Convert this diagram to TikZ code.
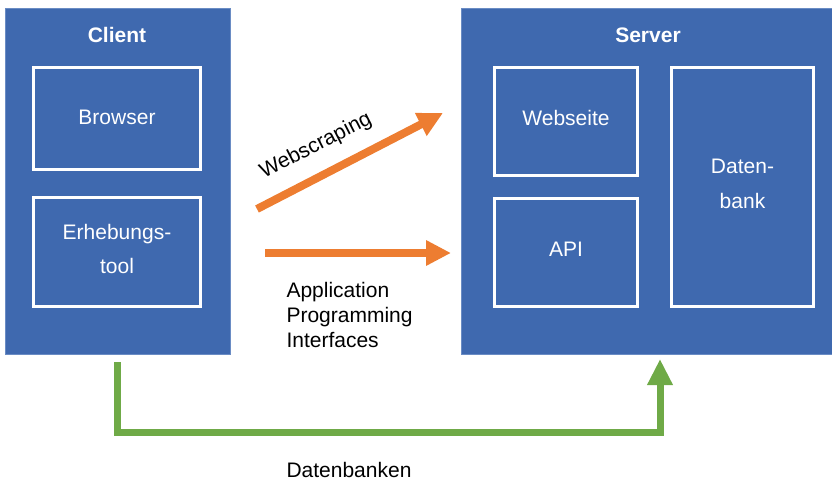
\documentclass[tikz,border=0pt]{standalone}
\usepackage{fontspec}
\setmainfont{Liberation Sans}
\usetikzlibrary{arrows.meta}
\definecolor{boxblue}{HTML}{3F69AF}
\definecolor{edgeblue}{HTML}{6A8CC4}
\definecolor{arrorange}{HTML}{ED7D31}
\definecolor{arrgreen}{HTML}{6FAA47}
\tikzset{
  outerbox/.style={rectangle, fill=boxblue, draw=edgeblue, line width=0.8pt, inner sep=0pt},
  innerbox/.style={rectangle, draw=white, line width=3.3pt, inner sep=0pt},
  boxtext/.style={text=white, align=center, inner sep=0pt, font=\fontsize{21}{34}\selectfont},
  titlelbl/.style={text=white, font=\fontsize{21}{25}\selectfont\bfseries},
  plainlbl/.style={text=black, font=\fontsize{21}{25}\selectfont, align=left},
  orangearrow/.style={draw=arrorange, line width=8pt, -{Triangle[width=24pt,length=25pt]}},
  greenarrow/.style={draw=arrgreen, line width=7pt, -{Triangle[width=24pt,length=26pt]}}
}
\begin{document}
\begin{tikzpicture}[x=1pt,y=-1pt]
\useasboundingbox (0,0) rectangle (832,481);
% outer boxes
\node[outerbox, minimum width=225pt, minimum height=346pt] (client) at (117.5,181) {};
\node[outerbox, minimum width=372pt, minimum height=346pt] (server) at (647,181) {};
\node[titlelbl] (clientlbl) at (117,35) {Client};
\node[titlelbl] (serverlbl) at (648,35) {Server};
% inner boxes
\node[innerbox, minimum width=166.7pt, minimum height=101.7pt] (browser) at (117,118.5) {};
\node[innerbox, minimum width=166.7pt, minimum height=108.7pt] (tool) at (117,252) {};
\node[innerbox, minimum width=142.7pt, minimum height=107.7pt] (web) at (566,121.5) {};
\node[innerbox, minimum width=142.7pt, minimum height=107.7pt] (api) at (566,252.5) {};
\node[innerbox, minimum width=141.7pt, minimum height=238.7pt] (db) at (742.5,187) {};
\node[boxtext] (browsertxt) at (117,117.5) {Browser};
\node[boxtext] (tooltxt) at (117,249) {Erhebungs-\\tool};
\node[boxtext] (webtxt) at (566,117.5) {Webseite};
\node[boxtext] (apitxt) at (566,249.5) {API};
\node[boxtext, font=\fontsize{21}{35}\selectfont] (dbtxt) at (742.5,184) {Daten-\\bank};
% connectors
\coordinate (ws1) at (257,209);
\coordinate (ws2) at (443,113);
\coordinate (ap1) at (265,253);
\coordinate (ap2) at (451,253);
\coordinate (db1) at (117,362);
\coordinate (c1) at (117,432);
\coordinate (c2) at (660,432);
\coordinate (db2) at (660,359);
\draw[orangearrow] (ws1) -- (ws2);
\draw[orangearrow] (ap1) -- (ap2);
\draw[greenarrow] (db1) -- (c1) -- (c2) -- (db2);
% labels
\node[plainlbl, rotate=27.2] (wslbl) at (316,146) {Webscraping};
\node[plainlbl, anchor=west] (aplbl) at (283,315) {Application\\Programming\\Interfaces};
\node[plainlbl, anchor=west] (dblbl) at (283,470) {Datenbanken};
\end{tikzpicture}
\end{document}
